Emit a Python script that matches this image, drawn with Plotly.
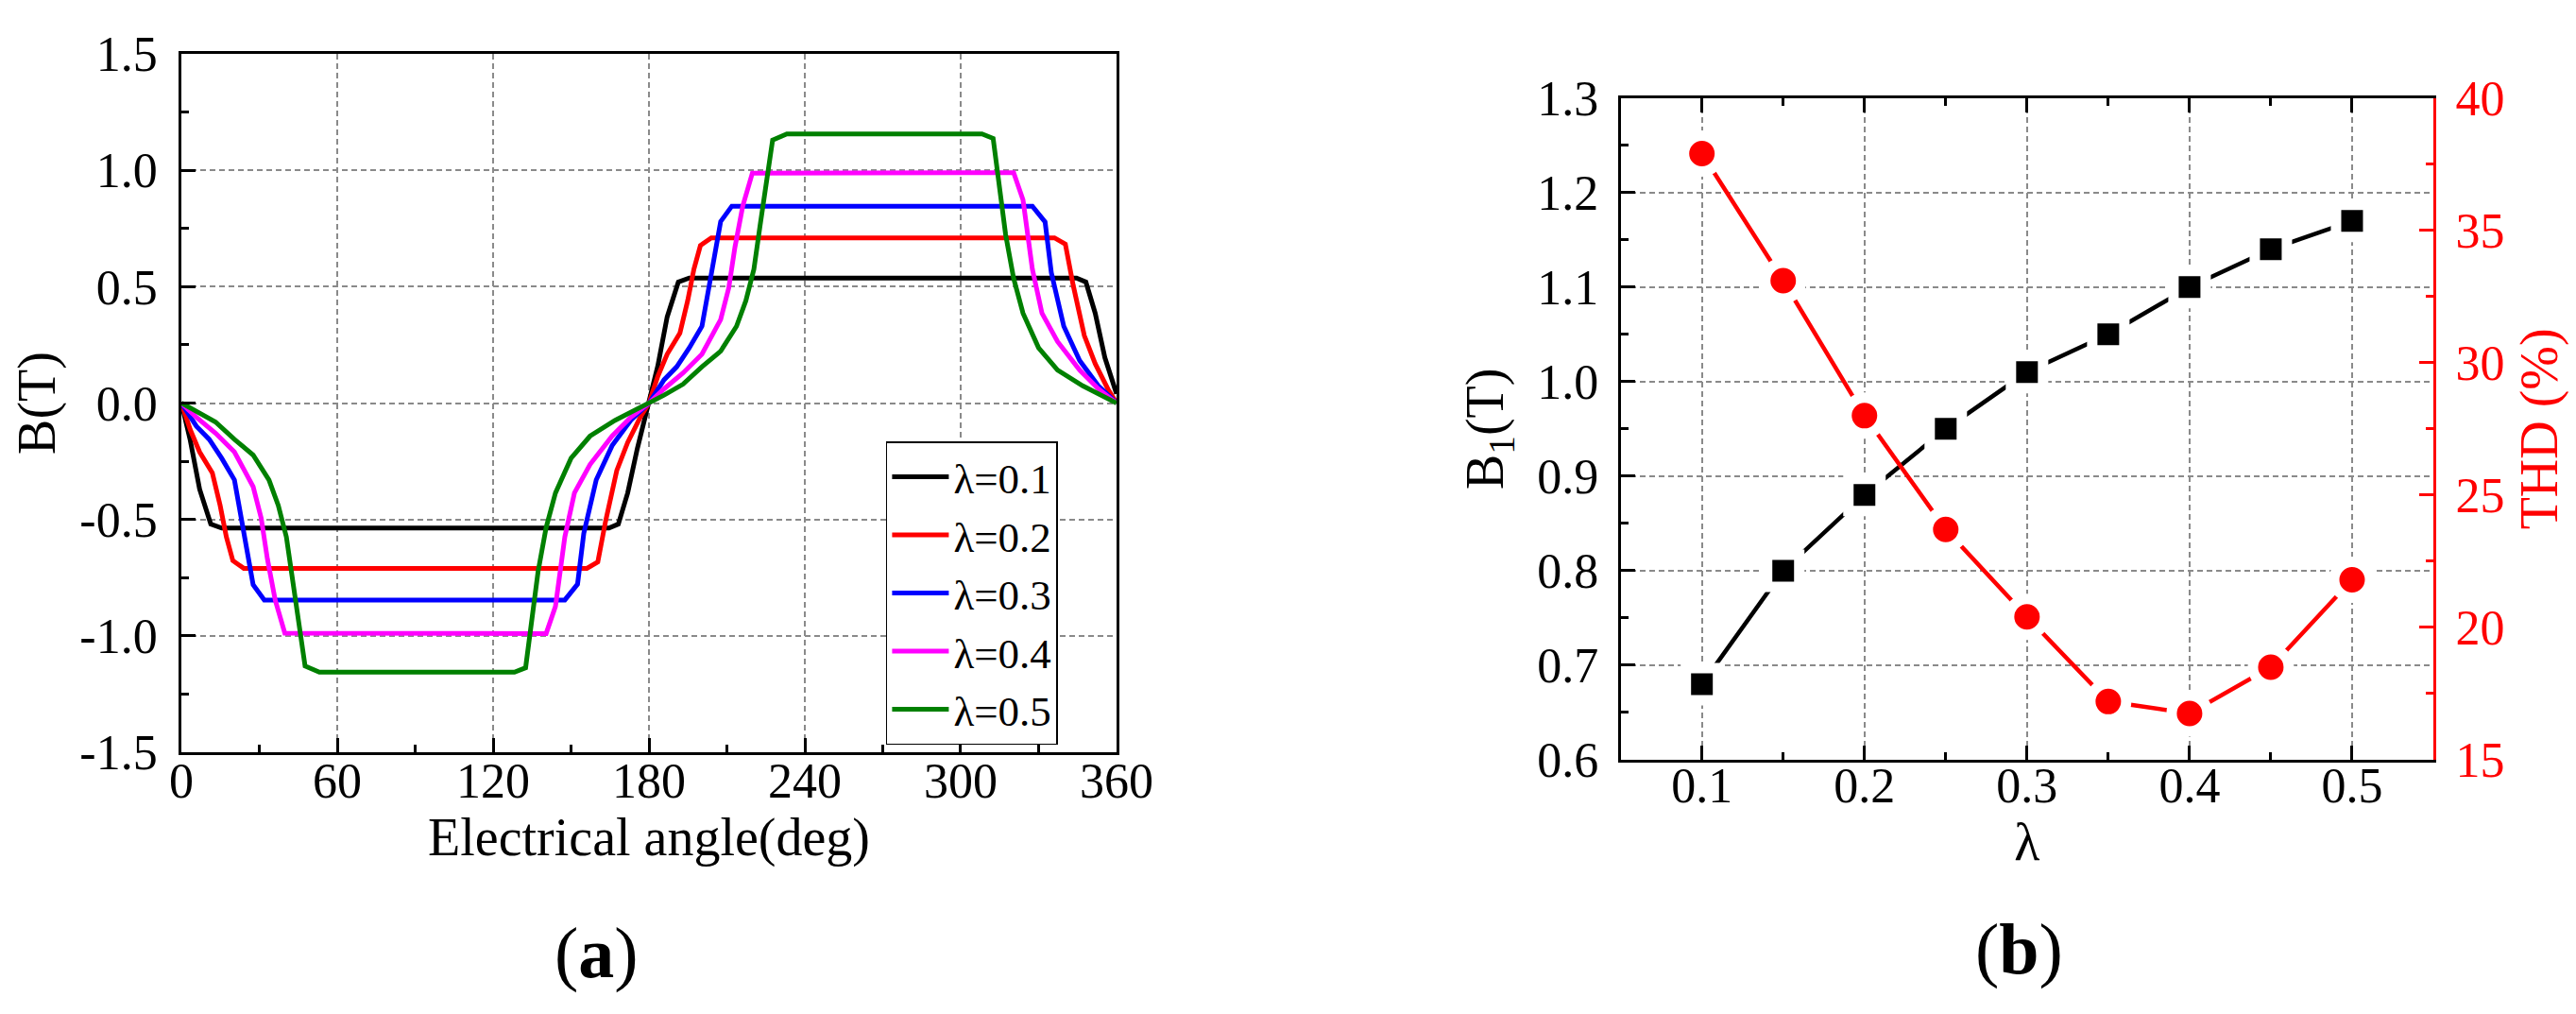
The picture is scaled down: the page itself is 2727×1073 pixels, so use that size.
import plotly.graph_objects as go

# ---------------- data: panel (a) ----------------
ang_01 = [0, 3.4, 7.0, 11.3, 15.5, 164.6, 168.2, 171.8, 175.5, 180,
          183.4, 187.0, 191.3, 195.5, 344.6, 348.2, 351.8, 355.5, 360]
b_01 = [0, -0.16, -0.37, -0.52, -0.537, -0.537, -0.52, -0.386, -0.196, 0,
        0.16, 0.37, 0.52, 0.537, 0.537, 0.52, 0.386, 0.196, 0.04]

ang_02 = [0, 3.4, 7.0, 11.9, 14.9, 17.3, 19.8, 24.0, 156.1, 160.3, 163.3, 167.6, 171.8, 176.7, 180,
          183.4, 187.0, 191.9, 194.9, 197.3, 199.8, 204.0, 336.1, 340.3, 343.3, 347.6, 351.8, 356.7, 360]
b_02 = [0, -0.115, -0.21, -0.30, -0.44, -0.575, -0.677, -0.71, -0.71, -0.683, -0.507, -0.29, -0.169, -0.06, 0,
        0.115, 0.21, 0.30, 0.44, 0.575, 0.677, 0.71, 0.71, 0.683, 0.507, 0.29, 0.169, 0.06, 0]

ang_03 = [0, 5.8, 10.7, 15.5, 20.4, 22.8, 25.2, 27.6, 31.9, 147.6, 152.5, 154.9, 159.7, 165.8, 173.0, 180,
          185.8, 190.7, 195.5, 200.4, 202.8, 205.2, 207.6, 211.9, 327.6, 332.5, 334.9, 339.7, 345.8, 353.0, 360]
b_03 = [0, -0.10, -0.156, -0.237, -0.33, -0.467, -0.63, -0.78, -0.846, -0.846, -0.778, -0.56, -0.33, -0.183, -0.074, 0,
        0.10, 0.156, 0.237, 0.33, 0.467, 0.63, 0.78, 0.846, 0.846, 0.778, 0.56, 0.33, 0.183, 0.074, 0]

ang_04 = [0, 5.8, 13.1, 20.4, 27.6, 30.7, 33.1, 36.1, 39.8, 140.4, 144.0, 147.6, 151.3, 157.3, 165.8, 173.0, 180,
          185.8, 193.1, 200.4, 207.6, 210.7, 213.1, 216.1, 219.8, 320.4, 324.0, 327.6, 331.3, 337.3, 345.8, 353.0, 360]
b_04 = [0, -0.061, -0.129, -0.21, -0.359, -0.494, -0.67, -0.846, -0.988, -0.99, -0.873, -0.575, -0.386, -0.264, -0.142, -0.061, 0,
        0.061, 0.129, 0.21, 0.359, 0.494, 0.67, 0.846, 0.988, 0.99, 0.873, 0.575, 0.386, 0.264, 0.142, 0.061, 0]

ang_05 = [0, 5.8, 13.1, 20.4, 27.6, 33.7, 37.3, 40.4, 42.8, 45.2, 47.6, 53.1, 128.2, 132.5, 134.9, 137.3, 140.4, 144.0, 150.0, 157.3, 167.0, 180,
          185.8, 193.1, 200.4, 207.6, 213.7, 217.3, 220.4, 222.8, 225.2, 227.6, 233.1, 308.2, 312.5, 314.9, 317.3, 320.4, 324.0, 330.0, 337.3, 347.0, 360]
b_05 = [0, -0.034, -0.081, -0.156, -0.223, -0.33, -0.44, -0.575, -0.765, -0.954, -1.13, -1.156, -1.156, -1.137, -0.94, -0.724, -0.535, -0.386, -0.237, -0.142, -0.074, 0,
        0.034, 0.081, 0.156, 0.223, 0.33, 0.44, 0.575, 0.765, 0.954, 1.13, 1.156, 1.156, 1.137, 0.94, 0.724, 0.535, 0.386, 0.237, 0.142, 0.074, 0]

series_names = ["λ=0.1", "λ=0.2", "λ=0.3", "λ=0.4", "λ=0.5"]
series_colors = ["#000000", "#FF0000", "#0000FF", "#FF00FF", "#008000"]

xa_tickvals = [0, 60, 120, 180, 240, 300, 360]
xa_ticktext = ["0", "60", "120", "180", "240", "300", "360"]
ya_tickvals = [-1.5, -1.0, -0.5, 0.0, 0.5, 1.0, 1.5]
ya_ticktext = ["-1.5", "-1.0", "-0.5", "0.0", "0.5", "1.0", "1.5"]

# ---------------- data: panel (b) ----------------
lam = [0.10, 0.15, 0.20, 0.25, 0.30, 0.35, 0.40, 0.45, 0.50]
b1 = [0.68, 0.80, 0.88, 0.95, 1.01, 1.05, 1.10, 1.14, 1.17]
thd = [37.9, 33.1, 28.0, 23.7, 20.4, 17.2, 16.75, 18.5, 21.8]

xb_tickvals = [0.1, 0.2, 0.3, 0.4, 0.5]
xb_ticktext = ["0.1", "0.2", "0.3", "0.4", "0.5"]
yb_tickvals = [0.6, 0.7, 0.8, 0.9, 1.0, 1.1, 1.2, 1.3]
yb_ticktext = ["0.6", "0.7", "0.8", "0.9", "1.0", "1.1", "1.2", "1.3"]
thd_tickvals = [15, 20, 25, 30, 35, 40]
thd_ticktext = ["15", "20", "25", "30", "35", "40"]

FONT = "Liberation Serif"
TICK = 52
TITLE = 56
GRID = "#8a8a8a"

fig = go.Figure()

angles = [ang_01, ang_02, ang_03, ang_04, ang_05]
values = [b_01, b_02, b_03, b_04, b_05]
for a, v, n, c in zip(angles, values, series_names, series_colors):
    fig.add_trace(go.Scatter(x=a, y=v, mode="lines", name=n,
                             line=dict(color=c, width=5),
                             xaxis="x", yaxis="y"))

fig.add_trace(go.Scatter(x=lam, y=b1, mode="lines+markers", showlegend=False,
                         line=dict(color="black", width=4.5),
                         marker=dict(symbol="square", size=34, color="black",
                                     line=dict(color="white", width=11)),
                         xaxis="x2", yaxis="y2"))
fig.add_trace(go.Scatter(x=lam, y=thd, mode="lines+markers", showlegend=False,
                         line=dict(color="#FF0000", width=4.5),
                         marker=dict(symbol="circle", size=38, color="#FF0000",
                                     line=dict(color="white", width=11)),
                         xaxis="x2", yaxis="y3"))

common = dict(showline=True, linewidth=3, linecolor="black", ticks="inside",
              ticklen=15, tickwidth=3, tickcolor="black", zeroline=False,
              automargin=False,
              tickfont=dict(family=FONT, size=TICK, color="black"),
              gridcolor=GRID, gridwidth=1.5, griddash="6px,4px")

fig.update_layout(
    template="none",
    width=2727, height=1073, autosize=False,
    margin=dict(l=0, r=0, t=0, b=0, pad=0),
    paper_bgcolor="white", plot_bgcolor="white",
    font=dict(family=FONT, color="black"),
    xaxis=dict(domain=[0.0675, 0.4305], anchor="y", range=[0, 360],
               tickmode="array", tickvals=xa_tickvals, ticktext=xa_ticktext,
               mirror=True, showgrid=True, ticklabelstandoff=-17,
               minor=dict(tickmode="linear", tick0=0, dtick=30, ticks="inside",
                          ticklen=8, tickwidth=3, tickcolor="black", showgrid=False),
               title=dict(text="Electrical angle(deg)", standoff=10,
                          font=dict(family=FONT, size=TITLE, color="black")),
               **common),
    yaxis=dict(domain=[0.2656, 0.9543], anchor="x", range=[-1.5, 1.5],
               tickmode="array", tickvals=ya_tickvals, ticktext=ya_ticktext,
               mirror=True, showgrid=True, ticklabelstandoff=12,
               minor=dict(tickmode="linear", tick0=0, dtick=0.25, ticks="inside",
                          ticklen=8, tickwidth=3, tickcolor="black", showgrid=False),
               title=dict(text="B(T)", standoff=10,
                          font=dict(family=FONT, size=TITLE, color="black")),
               **common),
    xaxis2=dict(domain=[0.6262, 0.9417], anchor="y2", range=[0.05, 0.55],
                tickmode="array", tickvals=xb_tickvals, ticktext=xb_ticktext,
                mirror="ticks", showgrid=True, ticklabelstandoff=-20,
                minor=dict(tickmode="linear", tick0=0.05, dtick=0.1, ticks="inside",
                           ticklen=8, tickwidth=3, tickcolor="black", showgrid=False),
                title=dict(text="λ", standoff=10,
                           font=dict(family=FONT, size=TITLE, color="black")),
                **common),
    yaxis2=dict(domain=[0.2582, 0.9108], anchor="x2", range=[0.6, 1.3],
                tickmode="array", tickvals=yb_tickvals, ticktext=yb_ticktext,
                showgrid=True, ticklabelstandoff=10,
                minor=dict(tickmode="linear", tick0=0.65, dtick=0.1, ticks="inside",
                           ticklen=8, tickwidth=3, tickcolor="black", showgrid=False),
                title=dict(text="B<sub>1</sub>(T)", standoff=18,
                           font=dict(family=FONT, size=TITLE, color="black")),
                **common),
    yaxis3=dict(overlaying="y2", anchor="x2", side="right", range=[15, 40],
                tickmode="array", tickvals=thd_tickvals, ticktext=thd_ticktext,
                showline=True, linewidth=3, linecolor="#FF0000", ticks="inside",
                ticklen=15, tickwidth=3, tickcolor="#FF0000", zeroline=False,
                showgrid=False, ticklabelstandoff=10, automargin=False,
                tickfont=dict(family=FONT, size=TICK, color="#FF0000"),
                minor=dict(tickmode="linear", tick0=17.5, dtick=5, ticks="inside",
                           ticklen=8, tickwidth=3, tickcolor="#FF0000", showgrid=False),
                title=dict(text="THD (%)", standoff=18,
                           font=dict(family=FONT, size=TITLE, color="#FF0000"))),
    legend=dict(x=0.341, y=0.572, xanchor="left", yanchor="top",
                bgcolor="white", bordercolor="black", borderwidth=1.5,
                font=dict(family=FONT, size=45, color="black"),
                itemwidth=60, tracegroupgap=0),
    annotations=[
        dict(text="(<b>a</b>)", x=0.2285, y=0.068, xref="paper", yref="paper",
             xanchor="center", yanchor="middle", showarrow=False,
             font=dict(family=FONT, size=76, color="black")),
        dict(text="(<b>b</b>)", x=0.781, y=0.071, xref="paper", yref="paper",
             xanchor="center", yanchor="middle", showarrow=False,
             font=dict(family=FONT, size=76, color="black")),
    ],
)

fig.write_html("out.html")
